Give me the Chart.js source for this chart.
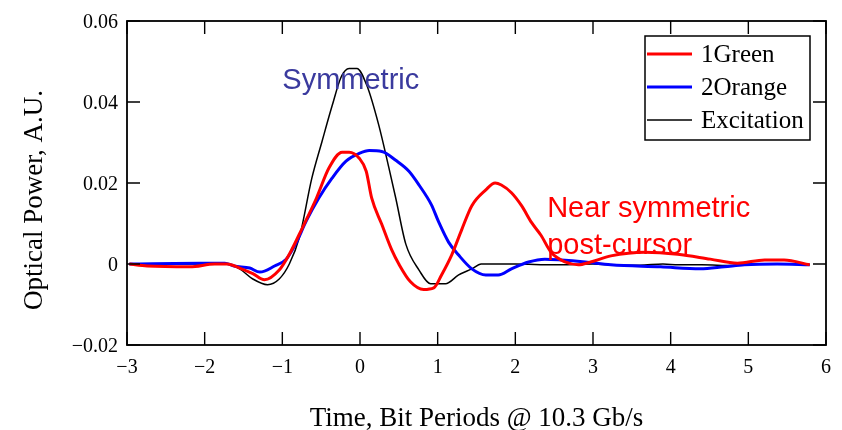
<!DOCTYPE html>
<html>
<head>
<meta charset="utf-8">
<script src="https://cdn.jsdelivr.net/npm/chart.js@4.4.0/dist/chart.umd.min.js"></script>
<style>
  html, body { margin: 0; padding: 0; background: #fff; }
</style>
</head>
<body>
<canvas id="chart" width="842" height="430"></canvas>
<script>
// time in bit periods, values in A.U.
const greenT = [-2.97, -2.74, -2.19, -1.87, -1.71, -1.55, -1.38, -1.23, -1.04, -0.91, -0.74, -0.56, -0.40, -0.23, -0.14, -0.01, 0.08, 0.15, 0.28, 0.41, 0.50, 0.65, 0.82, 0.95, 1.05, 1.18, 1.31, 1.44, 1.62, 1.74, 1.82, 1.95, 2.08, 2.21, 2.33, 2.46, 2.64, 2.81, 2.97, 3.23, 3.67, 4.09, 4.51, 4.86, 5.21, 5.46, 5.79];
const greenV = [0, -0.0005, -0.0007, 0, 0, -0.001, -0.0024, -0.0039, -0.0015, 0.0024, 0.0090, 0.0163, 0.0237, 0.0276, 0.0276, 0.0261, 0.0229, 0.0163, 0.0098, 0.0034, 0, -0.0044, -0.0063, -0.0059, -0.0027, 0.0022, 0.0085, 0.0144, 0.0183, 0.0200, 0.0195, 0.0176, 0.0144, 0.0102, 0.0071, 0.0029, 0.0005, -0.0002, 0.0005, 0.0020, 0.0029, 0.0024, 0.0012, 0.0002, 0.0010, 0.0010, -0.0002];

const orangeT = [-2.97, -2.06, -1.74, -1.62, -1.42, -1.29, -1.10, -0.95, -0.83, -0.69, -0.53, -0.36, -0.18, -0.01, 0.12, 0.28, 0.46, 0.63, 0.76, 0.92, 1.01, 1.14, 1.27, 1.44, 1.62, 1.78, 1.95, 2.17, 2.38, 2.59, 2.90, 3.23, 3.87, 4.38, 4.69, 4.95, 5.37, 5.79];
const orangeV = [0, 0.0002, 0.0002, -0.0005, -0.001, -0.002, -0.0005, 0.0012, 0.0049, 0.0107, 0.0163, 0.0212, 0.0254, 0.0273, 0.0280, 0.0278, 0.0256, 0.0229, 0.0195, 0.0146, 0.0105, 0.0054, 0.0022, -0.0012, -0.0027, -0.0027, -0.0012, 0.0005, 0.0012, 0.0010, 0.0005, -0.0002, -0.0007, -0.0012, -0.0007, -0.0002, 0, -0.0002];

const excT = [-2.97, -1.72, -1.55, -1.38, -1.19, -1.04, -0.91, -0.78, -0.62, -0.49, -0.36, -0.24, -0.14, -0.04, 0.09, 0.24, 0.37, 0.46, 0.59, 0.76, 0.91, 1.10, 1.27, 1.44, 1.56, 2.0, 2.5, 3.0, 3.3, 3.6, 3.9, 4.1, 4.4, 4.8, 5.0, 5.3, 5.79];
const excV = [0, 0, -0.0012, -0.0037, -0.0051, -0.0037, 0, 0.0066, 0.0212, 0.0302, 0.0390, 0.0463, 0.0483, 0.0483, 0.0440, 0.0344, 0.0239, 0.0163, 0.0049, -0.0015, -0.0049, -0.0049, -0.0027, -0.0012, 0, 0, -0.0002, 0, -0.0003, -0.0003, 0, -0.0002, -0.0002, -0.0004, 0, 0, -0.0002];

const seriesNames = ['1Green', '2Orange', 'Excitation'];
const xTickLabels = ['\u22123', '\u22122', '\u22121', '0', '1', '2', '3', '4', '5', '6'];
const yTickLabels = ['\u22120.02', '0', '0.02', '0.04', '0.06'];

const xTitle = 'Time, Bit Periods @ 10.3 Gb/s';
const yTitle = 'Optical Power, A.U.';

const pts = (t, v) => t.map((x, i) => ({ x: x, y: v[i] }));

// frame, inward ticks, notes, legend and axis titles
const decor = {
  id: 'decor',
  afterDatasetsDraw(chart) {
    const { ctx, chartArea: a, scales: { x, y } } = chart;
    ctx.save();
    ctx.strokeStyle = '#000';
    ctx.lineWidth = 1.8;
    ctx.strokeRect(a.left, a.top, a.right - a.left, a.bottom - a.top);

    ctx.lineWidth = 1.4;
    ctx.beginPath();
    x.ticks.forEach(t => {
      const px = x.getPixelForValue(t.value);
      ctx.moveTo(px, a.bottom); ctx.lineTo(px, a.bottom - 13);
      ctx.moveTo(px, a.top); ctx.lineTo(px, a.top + 13);
    });
    y.ticks.forEach(t => {
      const py = y.getPixelForValue(t.value);
      ctx.moveTo(a.left, py); ctx.lineTo(a.left + 13, py);
      ctx.moveTo(a.right, py); ctx.lineTo(a.right - 13, py);
    });
    ctx.stroke();

    // text notes on the curves
    ctx.textAlign = 'left';
    ctx.textBaseline = 'alphabetic';
    ctx.font = '29px "Liberation Sans", Arial, sans-serif';
    ctx.fillStyle = '#3a3a9e';
    ctx.fillText('Symmetric', x.getPixelForValue(-1.0), y.getPixelForValue(0.0432));
    ctx.fillStyle = '#ff0000';
    ctx.fillText('Near symmetric', x.getPixelForValue(2.41), y.getPixelForValue(0.0115));
    ctx.fillText('post-cursor', x.getPixelForValue(2.41), y.getPixelForValue(0.0024));

    // legend box
    const lx = a.right - 181, ly = a.top + 15, lw = 165, lh = 104;
    ctx.fillStyle = '#fff';
    ctx.fillRect(lx, ly, lw, lh);
    ctx.lineWidth = 1.5;
    ctx.strokeStyle = '#000';
    ctx.strokeRect(lx, ly, lw, lh);
    ctx.font = '25px "Liberation Serif", "Times New Roman", serif';
    chart.data.datasets.forEach((ds, i) => {
      const ry = ly + 18 + i * 33;
      ctx.strokeStyle = ds.borderColor;
      ctx.lineWidth = ds.borderWidth;
      ctx.beginPath();
      ctx.moveTo(lx + 2, ry); ctx.lineTo(lx + 47, ry);
      ctx.stroke();
      ctx.fillStyle = '#000';
      ctx.fillText(ds.label, lx + 56, ry + 8);
    });

    // axis titles
    ctx.fillStyle = '#000';
    ctx.font = '27px "Liberation Serif", "Times New Roman", serif';
    ctx.textAlign = 'center';
    ctx.fillText(xTitle, (a.left + a.right) / 2, 426);
    ctx.translate(42, 200);
    ctx.rotate(-Math.PI / 2);
    ctx.fillText(yTitle, 0, 0);
    ctx.restore();
  }
};

const tickFont = { family: '"Liberation Serif", "Times New Roman", serif', size: 20 };

new Chart(document.getElementById('chart'), {
  type: 'line',
  data: {
    datasets: [
      { label: seriesNames[0], data: pts(greenT, greenV), borderColor: '#ff0000', borderWidth: 3 },
      { label: seriesNames[1], data: pts(orangeT, orangeV), borderColor: '#0000ff', borderWidth: 3 },
      { label: seriesNames[2], data: pts(excT, excV), borderColor: '#000000', borderWidth: 1.5 }
    ]
  },
  options: {
    responsive: false,
    animation: false,
    layout: { padding: { top: 18, right: 13, left: 0, bottom: 0 } },
    elements: {
      point: { radius: 0 },
      line: { cubicInterpolationMode: 'monotone', fill: false }
    },
    plugins: { legend: { display: false }, tooltip: { enabled: false } },
    scales: {
      x: {
        type: 'linear', min: -3, max: 6,
        grid: { display: false, drawTicks: false },
        border: { display: false },
        ticks: { stepSize: 1, padding: 11, color: '#000', font: tickFont,
                 callback: (v, i) => xTickLabels[i] },
        afterFit: s => { s.height = 85; }
      },
      y: {
        min: -0.02, max: 0.06,
        grid: { display: false, drawTicks: false },
        border: { display: false },
        ticks: { stepSize: 0.02, padding: 9, labelOffset: 2, color: '#000', font: tickFont,
                 callback: (v, i) => yTickLabels[i] },
        afterFit: s => { s.width = 127; }
      }
    }
  },
  plugins: [decor]
});
</script>
</body>
</html>
